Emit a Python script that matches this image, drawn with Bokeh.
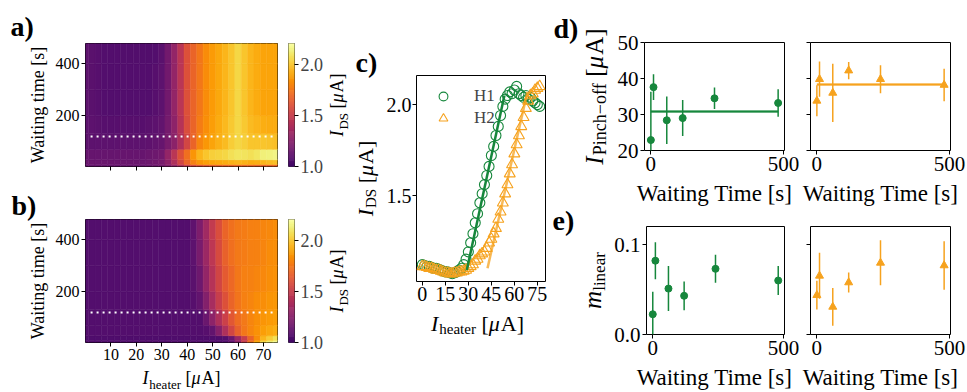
import numpy as np
from bokeh.plotting import figure
from bokeh.layouts import row, column
from bokeh.models import (Range1d, FixedTicker, Legend, LegendItem, ColumnDataSource,
                          PrintfTickFormatter, LinearAxis, CustomJSTickFormatter)
from bokeh.palettes import Inferno256
from bokeh.transform import linear_cmap
from bokeh.core.properties import value
from bokeh.embed import file_html
from bokeh.resources import INLINE

SERIF = "Liberation Serif"
GREEN = "#16873c"
ORANGE = "#f6a21e"
PALETTE = Inferno256[51:]

# ---------------- data ----------------
heater_cols = [0, 2.5, 5, 7.5, 10, 12.5, 15, 17.5, 20, 22.5, 25, 27.5, 30, 32.5, 35, 37.5, 40, 42.5,
               45, 47.5, 50, 52.5, 55, 57.5, 60, 62.5, 65, 67.5, 70, 72.5, 75]
wait_edges = [4, 12, 30, 70, 130, 200, 300, 400, 480]
map_h1 = [
    [1.14, 1.14, 1.14, 1.14, 1.14, 1.14, 1.14, 1.14, 1.14, 1.14, 1.15, 1.16, 1.18, 1.23, 1.30, 1.40,
     1.50, 1.57, 1.62, 1.64, 1.66, 1.67, 1.68, 1.69, 1.70, 1.70, 1.70, 1.69, 1.68, 1.69, 1.70],
    [1.15, 1.15, 1.15, 1.15, 1.15, 1.15, 1.15, 1.15, 1.15, 1.15, 1.16, 1.18, 1.20, 1.28, 1.40, 1.55,
     1.68, 1.78, 1.85, 1.88, 1.90, 1.91, 1.92, 1.94, 1.95, 1.94, 1.92, 1.93, 1.95, 1.97, 1.98],
    [1.14, 1.14, 1.14, 1.14, 1.14, 1.14, 1.14, 1.14, 1.14, 1.14, 1.15, 1.16, 1.18, 1.30, 1.45, 1.60,
     1.72, 1.85, 1.95, 2.00, 2.03, 2.04, 2.05, 2.08, 2.10, 2.09, 2.08, 2.10, 2.13, 2.14, 2.15],
    [1.10, 1.10, 1.10, 1.10, 1.10, 1.10, 1.10, 1.10, 1.10, 1.10, 1.11, 1.12, 1.14, 1.20, 1.27, 1.40,
     1.55, 1.68, 1.80, 1.86, 1.90, 1.94, 1.97, 2.02, 2.05, 2.03, 2.00, 2.00, 2.00, 1.99, 1.98],
    [1.10, 1.10, 1.09, 1.08, 1.08, 1.08, 1.08, 1.08, 1.08, 1.08, 1.09, 1.10, 1.12, 1.19, 1.28, 1.43,
     1.58, 1.68, 1.77, 1.83, 1.88, 1.92, 1.96, 2.01, 2.05, 2.01, 1.97, 1.95, 1.93, 1.92, 1.92],
    [1.10, 1.09, 1.08, 1.07, 1.07, 1.07, 1.07, 1.07, 1.07, 1.07, 1.07, 1.08, 1.10, 1.18, 1.30, 1.45,
     1.60, 1.68, 1.75, 1.82, 1.87, 1.91, 1.95, 2.00, 2.05, 2.00, 1.95, 1.92, 1.90, 1.90, 1.90],
    [1.10, 1.09, 1.08, 1.07, 1.07, 1.07, 1.07, 1.07, 1.07, 1.07, 1.07, 1.08, 1.10, 1.18, 1.30, 1.45,
     1.60, 1.68, 1.75, 1.82, 1.87, 1.91, 1.95, 2.00, 2.05, 2.00, 1.95, 1.92, 1.90, 1.90, 1.90],
    [1.10, 1.09, 1.08, 1.07, 1.07, 1.065, 1.06, 1.06, 1.06, 1.06, 1.06, 1.07, 1.09, 1.18, 1.30, 1.45,
     1.60, 1.68, 1.75, 1.82, 1.87, 1.91, 1.95, 2.00, 2.05, 2.00, 1.95, 1.92, 1.90, 1.90, 1.90],
]
map_h2 = [
    [1.06, 1.06, 1.06, 1.06, 1.06, 1.06, 1.06, 1.06, 1.06, 1.06, 1.06, 1.06, 1.06, 1.06, 1.06, 1.06,
     1.06, 1.06, 1.06, 1.06, 1.06, 1.06, 1.06, 1.12, 1.28, 1.50, 1.72, 1.90, 2.05, 2.12, 2.16],
    [1.05, 1.05, 1.05, 1.05, 1.05, 1.05, 1.05, 1.05, 1.05, 1.05, 1.05, 1.05, 1.05, 1.05, 1.05, 1.05,
     1.05, 1.05, 1.05, 1.05, 1.05, 1.05, 1.06, 1.15, 1.33, 1.50, 1.68, 1.82, 1.95, 2.02, 2.08],
    [1.07, 1.07, 1.07, 1.07, 1.07, 1.07, 1.07, 1.07, 1.07, 1.07, 1.07, 1.07, 1.07, 1.07, 1.07, 1.07,
     1.07, 1.07, 1.07, 1.08, 1.12, 1.25, 1.40, 1.55, 1.67, 1.75, 1.80, 1.84, 1.88, 1.91, 1.93],
    [1.07, 1.07, 1.07, 1.07, 1.07, 1.07, 1.07, 1.07, 1.07, 1.07, 1.07, 1.07, 1.07, 1.07, 1.07, 1.07,
     1.07, 1.07, 1.07, 1.15, 1.28, 1.40, 1.52, 1.63, 1.71, 1.76, 1.80, 1.83, 1.85, 1.87, 1.88],
    [1.07, 1.07, 1.07, 1.07, 1.07, 1.07, 1.07, 1.07, 1.07, 1.07, 1.07, 1.07, 1.07, 1.07, 1.07, 1.07,
     1.07, 1.08, 1.12, 1.24, 1.38, 1.50, 1.60, 1.68, 1.74, 1.78, 1.80, 1.82, 1.83, 1.85, 1.86],
    [1.07, 1.07, 1.07, 1.07, 1.07, 1.07, 1.07, 1.07, 1.07, 1.07, 1.07, 1.07, 1.07, 1.07, 1.07, 1.07,
     1.07, 1.09, 1.16, 1.30, 1.43, 1.54, 1.64, 1.70, 1.75, 1.78, 1.79, 1.80, 1.81, 1.83, 1.84],
    [1.07, 1.07, 1.07, 1.07, 1.07, 1.07, 1.07, 1.07, 1.07, 1.07, 1.07, 1.07, 1.07, 1.07, 1.07, 1.07,
     1.07, 1.10, 1.20, 1.33, 1.46, 1.57, 1.67, 1.72, 1.76, 1.77, 1.78, 1.79, 1.80, 1.82, 1.83],
    [1.07, 1.07, 1.07, 1.07, 1.07, 1.07, 1.07, 1.07, 1.07, 1.07, 1.07, 1.07, 1.07, 1.07, 1.07, 1.07,
     1.07, 1.11, 1.22, 1.35, 1.48, 1.58, 1.68, 1.73, 1.76, 1.77, 1.78, 1.79, 1.80, 1.81, 1.82],
]
dotted_wait = 120
dotted_heater = [2, 74]
ids_low, ids_high = 1.0, 2.2
ids_ticks = [1.0, 1.5, 2.0]
heater_ticks_map = [10, 20, 30, 40, 50, 60, 70]
wait_ticks_map = [200, 400]

sweep_heater = [0, 1.5, 3, 4.5, 6, 7.5, 9, 10.5, 12, 13.5, 15, 16.5, 18, 19.5, 21, 22.5, 24, 25.5, 27, 28.5,
                30, 31.5, 33, 34.5, 36, 37.5, 39, 40.5, 42, 43.5, 45, 46.5, 48, 49.5, 51, 52.5, 54, 55.5,
                57, 58.5, 60, 61.5, 63, 64.5, 66, 67.5, 69, 70.5, 72, 73.5, 75, 76.5]
sweep_h1 = [1.12, 1.115, 1.11, 1.11, 1.105, 1.10, 1.10, 1.095, 1.09, 1.085, 1.08, 1.08, 1.075, 1.07, 1.075,
            1.08, 1.09, 1.10, 1.12, 1.15, 1.19, 1.24, 1.29, 1.35, 1.40, 1.46, 1.51, 1.56, 1.61, 1.66, 1.72,
            1.77, 1.83, 1.88, 1.94, 1.99, 2.03, 2.05, 2.07, 2.06, 2.08, 2.10, 2.06, 2.05, 2.04, 2.05, 2.03,
            2.04, 2.02, 2.01, 2.00, 1.99]
sweep_h2 = [1.11, 1.11, 1.105, 1.10, 1.10, 1.095, 1.09, 1.09, 1.085, 1.08, 1.075, 1.075, 1.07, 1.07, 1.075,
            1.075, 1.08, 1.08, 1.085, 1.09, 1.10, 1.11, 1.12, 1.14, 1.15, 1.17, 1.18, 1.19, 1.21, 1.24, 1.26,
            1.29, 1.32, 1.37, 1.41, 1.46, 1.51, 1.56, 1.62, 1.67, 1.73, 1.78, 1.83, 1.88, 1.93, 1.98, 2.02,
            2.05, 2.06, 2.08, 2.09, 2.10]
fit_h1_x = [29.0, 53.5]
fit_h1_y = [1.09, 2.05]
fit_h2_x = [42.5, 68.5]
fit_h2_y = [1.10, 2.07]
sweep_x_ticks = [0, 15, 30, 45, 60, 75]
sweep_y_ticks = [1.5, 2.0]

wait_times = [0, 10, 60, 120, 240, 480]
pinch_h1 = [22.9, 37.6, 28.4, 29.0, 34.5, 33.2]
pinch_h1_err = [13.4, 3.6, 6.6, 5.0, 3.0, 3.8]
pinch_h2 = [33.8, 39.8, 36.0, 42.2, 39.8, 38.2]
pinch_h2_err = [4.3, 4.9, 8.1, 2.4, 3.9, 4.5]
pinch_mean_h1, pinch_band_h1 = 30.8, 0.4
pinch_mean_h2, pinch_band_h2 = 38.3, 0.4
slope_h1 = [0.0225, 0.082, 0.051, 0.043, 0.073, 0.060]
slope_h1_err = [0.025, 0.0205, 0.025, 0.016, 0.0155, 0.016]
slope_h2 = [0.0437, 0.0652, 0.0307, 0.0578, 0.0796, 0.0767]
slope_h2_err = [0.016, 0.0255, 0.021, 0.011, 0.025, 0.027]
wait_ticks = [0, 500]
pinch_ticks = [20, 30, 40, 50]
slope_ticks = [0.0, 0.1]

# ---------------- helpers ----------------
WIDTHS = {' ': .25, '[': .333, ']': .333, 'μ': .55, 'A': .722, 'D': .722, 'S': .556, 'I': .38,
          'h': .5, 'e': .444, 'a': .444, 't': .278, 'r': .333, 'P': .556, 'i': .278, 'n': .5,
          'c': .444, '−': .564, 'o': .5, 'f': .333, 'l': .278, 'm': .722, 's': .389}
BLANK = CustomJSTickFormatter(code="return ''")


def tw(s, size):
    return sum(WIDTHS.get(ch, .5) for ch in s) * size


def mkfig(left, fw, right, top, fh, bottom, xr, yr):
    p = figure(width=left + fw + right, height=top + fh + bottom, x_range=Range1d(*xr),
               y_range=Range1d(*yr), output_backend="svg", toolbar_location=None,
               min_border_left=left, min_border_right=right, min_border_top=top,
               min_border_bottom=bottom)
    p.grid.visible = False
    p.outline_line_color = "black"
    p.outline_line_width = 1
    p.outline_line_alpha = 1
    p.axis.axis_line_color = None
    p.axis.minor_tick_line_color = None
    p.axis.major_tick_in = 0
    p.axis.major_tick_out = 4
    p.axis.major_tick_line_color = "black"
    p.axis.major_label_text_font = SERIF
    p.axis.major_label_text_color = "black"
    p.background_fill_color = "white"
    p.border_fill_color = "white"
    return p


class TextFig:
    """A bare figure whose data units are the page pixels of its own area; holds texts."""

    def __init__(self, page_x, page_y, w, h):
        self.ox, self.oy, self.w, self.h = page_x, page_y, w, h
        p = figure(width=w, height=h, x_range=Range1d(0, w), y_range=Range1d(0, h),
                   output_backend="svg", toolbar_location=None, min_border=0,
                   x_axis_type=None, y_axis_type=None)
        if "frame_align" in type(p).properties():
            p.frame_align = False
        p.outline_line_color = None
        p.grid.visible = False
        p.background_fill_color = "white"
        p.border_fill_color = "white"
        self.p = p

    @property
    def box(self):
        # wrapped, so that no sibling plot aligns its frame with this one
        return column(self.p)

    def text(self, px, py, txt, size, style="normal", vertical=False, align="left"):
        # (px, py): page position of the alphabetic baseline (start or centre)
        shift = 0.34 * size
        if vertical:
            x, y, ang = px - shift, py, np.pi / 2
        else:
            x, y, ang = px, py - shift, 0.0
        self.p.text(x=[x - self.ox], y=[self.oy + self.h - y], text=[txt],
                    text_font=value(SERIF), text_font_size=value(f"{size}px"),
                    text_font_style=value(style), text_color="black", angle=ang,
                    text_align=value(align), text_baseline=value("middle"))

    def math(self, cx, cy, parts, vertical=False):
        total = sum(tw(t, s) for t, s, _, _ in parts)
        off = -total / 2
        for t, s, st, drop in parts:
            body = t.lstrip()
            lead = tw(t[:len(t) - len(body)], s)
            if vertical:
                self.text(cx + drop, cy - off - lead, body, s, st, vertical=True)
            else:
                self.text(cx + off + lead, cy + drop, body, s, st)
            off += tw(t, s)


def unit_parts(size, sym, sub):
    s2 = round(size * 0.7)
    d = round(size * 0.2)
    return [(sym, size, "italic", 0), (sub, s2, "normal", d), (" [", size, "normal", 0),
            ("μ", size, "italic", 0), ("A]", size, "normal", 0)]


def heat_panel(p, mat, show_x_labels):
    cols = np.array(heater_cols, dtype=float)
    half = np.diff(cols).mean() / 2
    left, right, bottom, top, val = [], [], [], [], []
    for r in range(len(wait_edges) - 1):
        for c, h in enumerate(cols):
            left.append(h - half)
            right.append(h + half)
            bottom.append(wait_edges[r])
            top.append(wait_edges[r + 1])
            val.append(mat[r][c])
    src = ColumnDataSource(dict(left=left, right=right, bottom=bottom, top=top, val=val))
    cm = linear_cmap("val", PALETTE, ids_low, ids_high)
    p.quad(left="left", right="right", bottom="bottom", top="top", source=src,
           fill_color=cm, line_color=cm, line_width=0.5)
    p.line(x=dotted_heater, y=[dotted_wait, dotted_wait], line_color="white", line_width=2,
           line_dash="2 4")
    p.xaxis.ticker = FixedTicker(ticks=heater_ticks_map)
    p.yaxis.ticker = FixedTicker(ticks=wait_ticks_map)
    p.axis.major_label_text_font_size = "16px"
    p.axis.major_label_standoff = 2
    if not show_x_labels:
        p.xaxis.formatter = BLANK
        p.xaxis.major_label_standoff = 0
        p.xaxis.major_label_text_font_size = "10px"


def cbar_fig(top, bottom):
    cb = mkfig(6, 6, 32, top, 123, bottom, (0, 1), (ids_low, ids_high))
    vals = np.linspace(ids_low, ids_high, 121)
    step = vals[1] - vals[0]
    src = ColumnDataSource(dict(b=vals - step / 2, t=vals + step / 2, v=vals))
    cm = linear_cmap("v", PALETTE, ids_low, ids_high)
    cb.quad(left=0, right=1, bottom="b", top="t", source=src, fill_color=cm, line_color=cm,
            line_width=0.5)
    cb.xaxis.visible = False
    cb.yaxis.visible = False
    ax = LinearAxis(ticker=FixedTicker(ticks=ids_ticks), formatter=PrintfTickFormatter(format="%.1f"))
    ax.axis_line_color = None
    ax.major_tick_in = 0
    ax.major_tick_out = 4
    ax.major_tick_line_color = "black"
    ax.minor_tick_line_color = None
    ax.major_label_text_font = SERIF
    ax.major_label_text_font_size = "18px"
    ax.major_label_standoff = 2
    cb.add_layout(ax, "right")
    cb.outline_line_color = "#333333"
    return cb


# ---------------- column 1: panels a, b ----------------
L1 = TextFig(0, 0, 50, 392)
L1.text(10, 36, "a)", 28, "bold")
L1.text(11, 215, "b)", 28, "bold")
L1.text(44, 104.5, "Waiting time [s]", 18, vertical=True, align="center")
L1.text(44, 280.5, "Waiting time [s]", 18, vertical=True, align="center")

pa = mkfig(35, 192, 5, 43, 123, 24, (0, 75.5), (4, 478))
heat_panel(pa, map_h1, False)
ca = cbar_fig(43, 24)
la = TextFig(326, 0, 24, 190)
la.math(343, 104.5, unit_parts(18, "I", "DS"), vertical=True)

pb = mkfig(35, 192, 5, 29, 123, 25, (0, 75.5), (4, 478))
heat_panel(pb, map_h2, True)
cbb = cbar_fig(29, 25)
lb = TextFig(326, 190, 24, 177)
lb.math(343, 280.5, unit_parts(18, "I", "DS"), vertical=True)
sbx = TextFig(50, 367, 300, 25)
sbx.math(181, 384, unit_parts(18, "I", "heater"))

col1 = row(L1.box, column(row(pa, ca, la.box), row(pb, cbb, lb.box), sbx.box))

# ---------------- column 2: panel c ----------------
L2 = TextFig(350, 0, 31, 309)
L2.text(355, 72, "c)", 28, "bold")
L2.math(372, 178, unit_parts(22, "I", "DS"), vertical=True)
pc = mkfig(35, 129, 5, 75, 206, 28, (-3.8, 80.3), (1.027, 2.16))
r1 = pc.scatter(sweep_heater, sweep_h1, marker="circle", size=10, fill_color=None,
                line_color=GREEN, line_width=1.1)
r2 = pc.scatter(sweep_heater, sweep_h2, marker="triangle", size=11, fill_color=None,
                line_color=ORANGE, line_width=1.1)
pc.line(fit_h1_x, fit_h1_y, line_color=GREEN, line_width=2.5)
pc.line(fit_h2_x, fit_h2_y, line_color=ORANGE, line_width=2.5, line_alpha=0.75)
pc.xaxis.ticker = FixedTicker(ticks=sweep_x_ticks)
pc.yaxis.ticker = FixedTicker(ticks=sweep_y_ticks)
pc.yaxis.formatter = PrintfTickFormatter(format="%.1f")
pc.axis.major_label_text_font_size = "20px"
pc.axis.major_label_standoff = 1
leg = Legend(items=[LegendItem(label="H1", renderers=[r1]), LegendItem(label="H2", renderers=[r2])],
             location="top_left", margin=10, padding=9, glyph_width=34, glyph_height=22,
             label_height=22, label_standoff=14, spacing=0, border_line_color=None,
             background_fill_alpha=0, label_text_font=SERIF, label_text_font_size="17px")
pc.add_layout(leg)
scx = TextFig(350, 309, 200, 83)
scx.math(477, 330, unit_parts(22, "I", "heater"))

col2 = column(row(L2.box, pc), scx.box)


# ---------------- column 3: panels d, e ----------------
def wt_panel(left, right, top, yr, yticks, vals, errs, color, marker, size, labels_y,
             mean=None, band=None):
    p = mkfig(left, 140, right, top, 108, 30, (-24, 504), yr)
    lo = np.array(vals) - np.array(errs)
    hi = np.array(vals) + np.array(errs)
    if mean is not None:
        p.varea(x=[wait_times[0], wait_times[-1]], y1=[mean - band] * 2, y2=[mean + band] * 2,
                fill_color=color, fill_alpha=0.3)
        p.line(x=[wait_times[0], wait_times[-1]], y=[mean, mean], line_color=color, line_width=2)
    p.segment(x0=wait_times, y0=lo, x1=wait_times, y1=hi, line_color=color, line_width=1.5)
    p.scatter(wait_times, vals, marker=marker, size=size, fill_color=color, line_color=color)
    p.xaxis.ticker = FixedTicker(ticks=wait_ticks)
    p.yaxis.ticker = FixedTicker(ticks=yticks)
    p.axis.major_label_text_font_size = "21px"
    p.axis.major_label_standoff = 2
    if not labels_y:
        p.yaxis.formatter = BLANK
        p.yaxis.major_label_standoff = 0
    return p


L3 = TextFig(550, 0, 61, 392)
L3.text(553, 38, "d)", 28, "bold")
L3.math(602, 96, [("I", 25, "italic", 0), ("Pinch−off", 18, "normal", 4), (" [", 25, "normal", 0),
                  ("μ", 25, "italic", 0), ("A]", 25, "normal", 0)], vertical=True)
L3.text(552, 230, "e)", 28, "bold")
L3.math(600, 280, [("m", 25, "italic", 0), ("linear", 17, "normal", 5)], vertical=True)

pd1 = wt_panel(33, 16, 42, (20, 50), pinch_ticks, pinch_h1, pinch_h1_err, GREEN, "circle", 7,
               True, pinch_mean_h1, pinch_band_h1)
pd2 = wt_panel(10, 17, 42, (20, 50), pinch_ticks, pinch_h2, pinch_h2_err, ORANGE, "triangle", 8,
               False, pinch_mean_h2, pinch_band_h2)
pd1.yaxis.formatter = PrintfTickFormatter(format="%d")
sdx = TextFig(611, 180, 356, 27)
sdx.text(714, 201, "Waiting Time [s]", 23, align="center")
sdx.text(880, 201, "Waiting Time [s]", 23, align="center")

pe1 = wt_panel(33, 16, 19, (0, 0.12), slope_ticks, slope_h1, slope_h1_err, GREEN, "circle", 7,
               True)
pe2 = wt_panel(10, 17, 19, (0, 0.12), slope_ticks, slope_h2, slope_h2_err, ORANGE, "triangle", 8,
               False)
pe1.yaxis.formatter = PrintfTickFormatter(format="%.1f")
sex = TextFig(611, 364, 356, 28)
sex.text(714, 385, "Waiting Time [s]", 23, align="center")
sex.text(880, 385, "Waiting Time [s]", 23, align="center")

col3 = row(L3.box, column(row(pd1, pd2), sdx.box, row(pe1, pe2), sex.box))

layout = row(col1, col2, col3)
open("out.html", "w").write(file_html(layout, INLINE))
